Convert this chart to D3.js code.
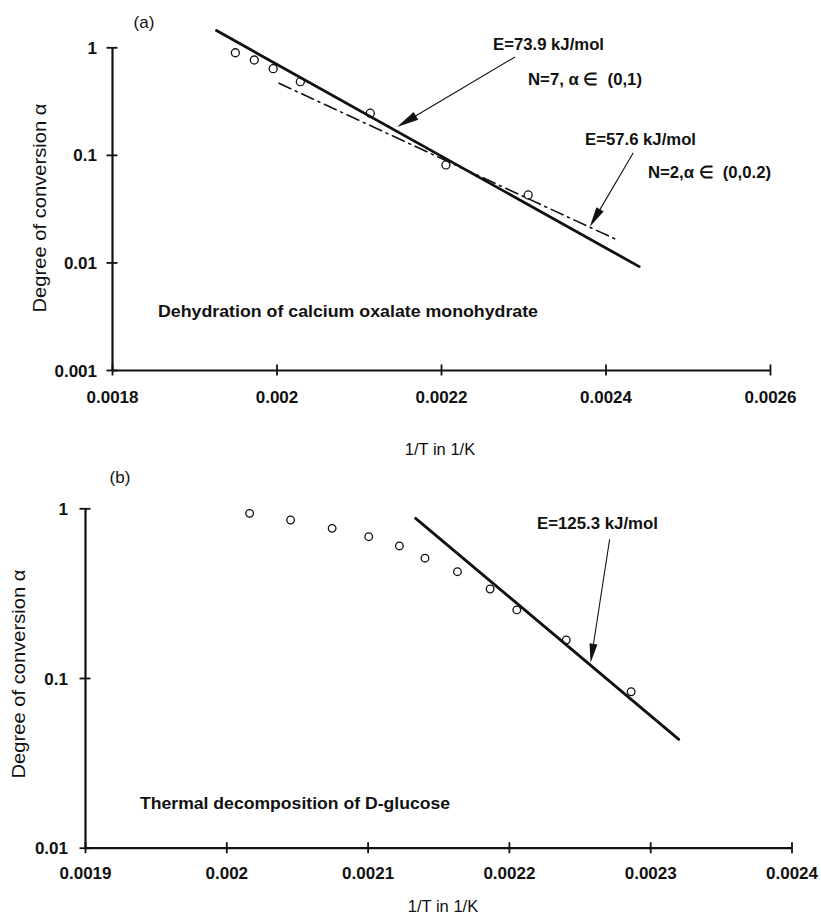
<!DOCTYPE html>
<html>
<head>
<meta charset="utf-8">
<script src="https://cdn.jsdelivr.net/npm/d3@7"></script>
<style>
  html, body { margin: 0; padding: 0; background: #fff; }
  svg { display: block; }
  text { font-family: "Liberation Sans", Arial, Helvetica, sans-serif; fill: #111; white-space: pre; }
</style>
</head>
<body>
<script>
// ---------------- DATA ----------------
// Panel (a): Dehydration of calcium oxalate monohydrate
const aXTicks = [0.0018, 0.002, 0.0022, 0.0024, 0.0026];
const aXTickLabels = ["0.0018", "0.002", "0.0022", "0.0024", "0.0026"];
const aYTicks = [1, 0.1, 0.01, 0.001];
const aYTickLabels = ["1", "0.1", "0.01", "0.001"];
const aPointsX = [0.00195, 0.001973, 0.001996, 0.002029, 0.002114, 0.002206, 0.002306];
const aPointsY = [0.89, 0.762, 0.633, 0.479, 0.244, 0.0806, 0.0424];
const aFitE739X = [0.001927, 0.002441];   // E = 73.9 kJ/mol, solid
const aFitE739Y = [1.43, 0.00914];
const aFitE576X = [0.002003, 0.002416];   // E = 57.6 kJ/mol, dash-dot
const aFitE576Y = [0.463, 0.01595];
const aArrow1 = {x: [0.00229, 0.0021465], y: [0.813, 0.1816]};
const aArrow2 = {x: [0.0024338, 0.002381], y: [0.1047, 0.0215]};

// Panel (b): Thermal decomposition of D-glucose
const bXTicks = [0.0019, 0.002, 0.0021, 0.0022, 0.0023, 0.0024];
const bXTickLabels = ["0.0019", "0.002", "0.0021", "0.0022", "0.0023", "0.0024"];
const bYTicks = [1, 0.1, 0.01];
const bYTickLabels = ["1", "0.1", "0.01"];
const bPointsX = [0.0020165, 0.0020455, 0.0020749, 0.0021008, 0.0021225, 0.0021406,
                  0.0021636, 0.0021867, 0.0022056, 0.0022406, 0.0022865];
const bPointsY = [0.934, 0.853, 0.762, 0.68, 0.60, 0.508, 0.423, 0.3345, 0.252, 0.1675, 0.083];
const bFitX = [0.002134, 0.0023202];     // E = 125.3 kJ/mol
const bFitY = [0.873, 0.0435];
const bArrow = {x: [0.0022713, 0.0022578], y: [0.657, 0.123]};

// ---------------- DRAW ----------------
const W = 821, H = 915;
const svg = d3.select("body").append("svg").attr("width", W).attr("height", H);
svg.append("rect").attr("width", W).attr("height", H).attr("fill", "#fff");

function panel(cfg) {
  const x = d3.scaleLinear().domain(cfg.xDomain).range(cfg.xRange);
  const y = d3.scaleLog().domain(cfg.yDomain).range(cfg.yRange);
  const g = svg.append("g");

  // x axis
  const xa = g.append("g").attr("transform", `translate(0,${cfg.yRange[0]})`)
    .call(d3.axisBottom(x).tickValues(cfg.xTicks).tickSizeOuter(0)
      .tickFormat((d, i) => cfg.xTickLabels[i]));
  xa.select(".domain").attr("stroke", "#111").attr("stroke-width", 2.2);
  xa.selectAll(".tick line").attr("y1", -5.5).attr("y2", 5.5).attr("stroke", "#111").attr("stroke-width", 1.8);
  xa.selectAll(".tick text").attr("y", cfg.xLabelY - cfg.yRange[0]).attr("dy", null)
    .attr("font-size", 17).attr("font-weight", "bold").attr("fill", "#111")
    .attr("font-family", '"Liberation Sans", Arial, sans-serif');

  // y axis
  const ya = g.append("g").attr("transform", `translate(${cfg.xRange[0]},0)`)
    .call(d3.axisLeft(y).tickValues(cfg.yTicks).tickSizeOuter(0)
      .tickFormat((d, i) => cfg.yTickLabels[i]));
  ya.select(".domain").attr("stroke", "#111").attr("stroke-width", 2.2);
  ya.selectAll(".tick line").attr("x1", 5.5).attr("x2", -5.5).attr("stroke", "#111").attr("stroke-width", 1.8);
  ya.selectAll(".tick text").attr("x", -cfg.yLabelGap).attr("dy", "0.36em")
    .attr("font-size", 17).attr("font-weight", "bold").attr("fill", "#111")
    .attr("font-family", '"Liberation Sans", Arial, sans-serif');

  // axis titles
  g.append("text").attr("x", cfg.xTitle[0]).attr("y", cfg.xTitle[1])
    .attr("text-anchor", "middle").attr("font-size", 16.5).text("1/T in 1/K");
  g.append("text")
    .attr("transform", `translate(${cfg.yTitle[0]},${cfg.yTitle[1]}) rotate(-90)`)
    .attr("text-anchor", "middle").attr("font-size", 18)
    .attr("textLength", 209).attr("lengthAdjust", "spacingAndGlyphs")
    .text("Degree of conversion \u03b1");

  // panel letter
  g.append("text").attr("x", cfg.letter[0]).attr("y", cfg.letter[1])
    .attr("text-anchor", "middle").attr("font-size", 17).text(cfg.letterText);

  return {x, y, g};
}

function arrow(g, x, y, a, L, w) {
  const x0 = x(a.x[0]), y0 = y(a.y[0]), x1 = x(a.x[1]), y1 = y(a.y[1]);
  const dx = x1 - x0, dy = y1 - y0, len = Math.hypot(dx, dy);
  const ux = dx / len, uy = dy / len, nx = -uy, ny = ux;
  g.append("line").attr("x1", x0).attr("y1", y0)
    .attr("x2", x1 - ux * L * 0.8).attr("y2", y1 - uy * L * 0.8)
    .attr("stroke", "#111").attr("stroke-width", 1.1);
  const bx = x1 - ux * L, by = y1 - uy * L;
  g.append("path")
    .attr("d", `M${x1},${y1}L${bx + nx * w},${by + ny * w}L${bx - nx * w},${by - ny * w}Z`)
    .attr("fill", "#111");
}

function fitLine(g, x, y, xs, ys, width, dash) {
  const pts = xs.map((v, i) => [v, ys[i]]);
  g.append("path").datum(pts)
    .attr("d", d3.line().x(d => x(d[0])).y(d => y(d[1])))
    .attr("fill", "none").attr("stroke", "#111").attr("stroke-width", width)
    .attr("stroke-dasharray", dash || null).attr("stroke-linecap", "round");
}

function circles(g, x, y, xs, ys, r) {
  g.selectAll(null).data(xs.map((v, i) => [v, ys[i]])).enter().append("circle")
    .attr("cx", d => x(d[0])).attr("cy", d => y(d[1])).attr("r", r)
    .attr("fill", "none").attr("stroke", "#111").attr("stroke-width", 1.3);
}

function label(g, txt, px, py, len, size) {
  const t = g.append("text").attr("x", px).attr("y", py)
    .attr("font-size", size || 17).attr("font-weight", "bold").text(txt);
  if (len) t.attr("textLength", len).attr("lengthAdjust", "spacingAndGlyphs");
}

// ---- Panel (a)
const A = panel({
  xDomain: [0.0018, 0.0026], xRange: [112, 770],
  yDomain: [0.001, 1], yRange: [370, 47.3],
  xTicks: aXTicks, xTickLabels: aXTickLabels,
  yTicks: aYTicks, yTickLabels: aYTickLabels,
  xLabelY: 403, yLabelGap: 15,
  xTitle: [440, 455], yTitle: [46, 208],
  letter: [144, 28], letterText: "(a)"
});
fitLine(A.g, A.x, A.y, aFitE576X, aFitE576Y, 1.6, "13,5,2,5");
fitLine(A.g, A.x, A.y, aFitE739X, aFitE739Y, 2.8);
circles(A.g, A.x, A.y, aPointsX, aPointsY, 4);
arrow(A.g, A.x, A.y, aArrow1, 22, 4.5);
arrow(A.g, A.x, A.y, aArrow2, 20, 4.2);
label(A.g, "E=73.9 kJ/mol", 493, 50, 111);
label(A.g, "N=7, \u03b1 \u2208  (0,1)", 528, 85, 114);
label(A.g, "E=57.6 kJ/mol", 585, 145, 111);
label(A.g, "N=2,\u03b1 \u2208  (0,0.2)", 648, 178, 123);
label(A.g, "Dehydration of calcium oxalate monohydrate", 158, 317, 380);

// ---- Panel (b)
const B = panel({
  xDomain: [0.0019, 0.0024], xRange: [85, 791.5],
  yDomain: [0.01, 1], yRange: [847.7, 508.3],
  xTicks: bXTicks, xTickLabels: bXTickLabels,
  yTicks: bYTicks, yTickLabels: bYTickLabels,
  xLabelY: 879, yLabelGap: 17,
  xTitle: [443, 912], yTitle: [25, 674],
  letter: [120, 483], letterText: "(b)"
});
fitLine(B.g, B.x, B.y, bFitX, bFitY, 2.8);
circles(B.g, B.x, B.y, bPointsX, bPointsY, 3.8);
arrow(B.g, B.x, B.y, bArrow, 19, 4);
label(B.g, "E=125.3 kJ/mol", 537, 529, 121);
label(B.g, "Thermal decomposition of D-glucose", 140, 809, 310);
</script>
</body>
</html>
